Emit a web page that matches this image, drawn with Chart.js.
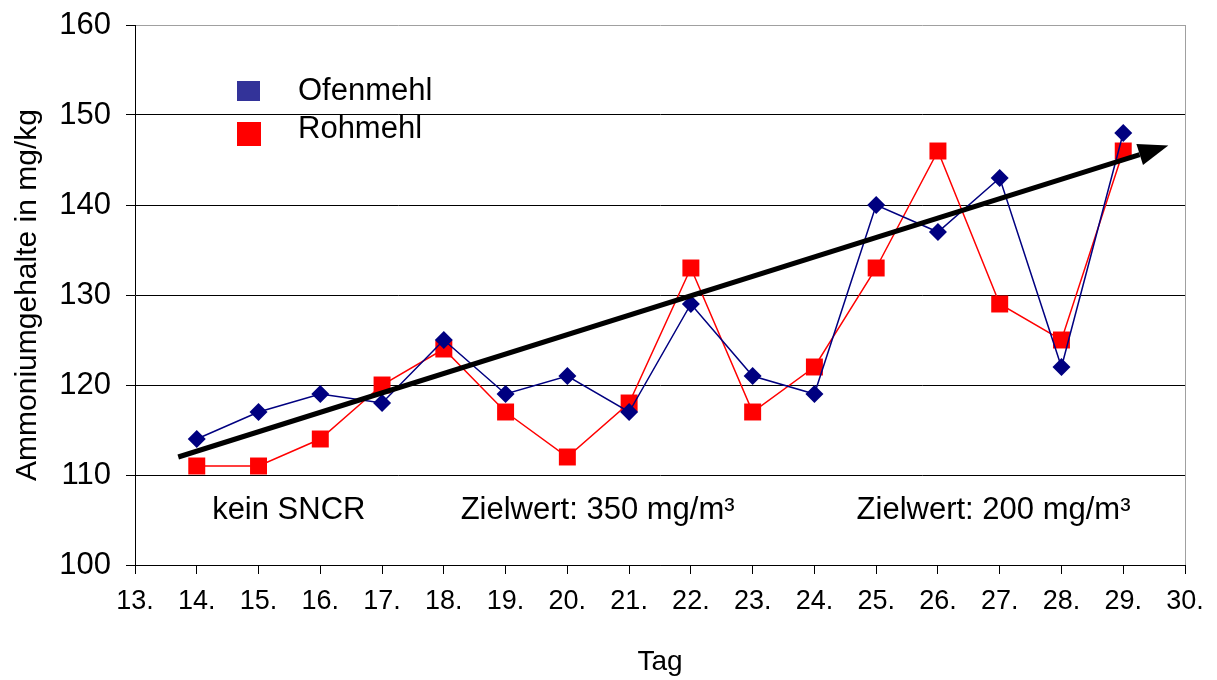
<!DOCTYPE html>
<html>
<head>
<meta charset="utf-8">
<script src="https://cdn.jsdelivr.net/npm/chart.js@4/dist/chart.umd.min.js"></script>
<style>
  html, body { margin: 0; padding: 0; background: #fff; }
  canvas { display: block; }
</style>
</head>
<body>
<canvas id="ammonChart" width="1217" height="680"></canvas>
<script>
// values
const days = [14, 15, 16, 17, 18, 19, 20, 21, 22, 23, 24, 25, 26, 27, 28, 29];
const ofenmehl = [114, 117, 119, 118, 125, 119, 121, 117, 129, 121, 119, 140, 137, 143, 122, 148];
const rohmehl = [111, 111, 114, 120, 124, 117, 112, 118, 133, 117, 122, 133, 146, 129, 125, 146];
const seriesNames = ['Ofenmehl', 'Rohmehl'];
const trendArrow = [[13.7, 112], [29.73, 146.6]];
const notes = [
    ['kein SNCR', 15.49, 105.1],
    ['Zielwert: 350 mg/m³', 20.49, 105.1],
    ['Zielwert: 200 mg/m³', 26.9, 105.1]
];

const toPoints = vals => days.map((d, i) => ({ x: d, y: vals[i] }));

const overlay = {
    id: 'overlay',
    afterDatasetsDraw(chart) {
        const { ctx, chartArea: a, scales: { x, y } } = chart;
        ctx.save();

        // grey right edge of the plot frame
        ctx.strokeStyle = '#a0a0a0';
        ctx.lineWidth = 1;
        ctx.beginPath();
        ctx.moveTo(a.right + 0.5, a.top);
        ctx.lineTo(a.right + 0.5, a.bottom);
        ctx.stroke();

        // trend arrow
        const [p0, p1] = trendArrow.map(([dx, dy]) => [x.getPixelForValue(dx), y.getPixelForValue(dy)]);
        const ang = Math.atan2(p1[1] - p0[1], p1[0] - p0[0]);
        const head = 30, half = 11;
        const bx = p1[0] - head * Math.cos(ang);
        const by = p1[1] - head * Math.sin(ang);
        ctx.strokeStyle = '#000';
        ctx.lineWidth = 5;
        ctx.beginPath();
        ctx.moveTo(p0[0], p0[1]);
        ctx.lineTo(bx, by);
        ctx.stroke();
        ctx.fillStyle = '#000';
        ctx.beginPath();
        ctx.moveTo(p1[0], p1[1]);
        ctx.lineTo(bx + half * Math.sin(ang), by - half * Math.cos(ang));
        ctx.lineTo(bx - half * Math.sin(ang), by + half * Math.cos(ang));
        ctx.closePath();
        ctx.fill();

        // phase notes
        ctx.font = '31px "Liberation Sans", Arial, sans-serif';
        ctx.textAlign = 'center';
        ctx.textBaseline = 'alphabetic';
        notes.forEach(([txt, dx, dy]) => {
            ctx.fillText(txt, x.getPixelForValue(dx), y.getPixelForValue(dy));
        });

        // legend inside the plot
        ctx.textAlign = 'left';
        ctx.fillStyle = '#333399';
        ctx.fillRect(237, 81, 23, 20);
        ctx.fillStyle = '#ff0000';
        ctx.fillRect(237, 122, 24, 24);
        ctx.fillStyle = '#000';
        ctx.fillText(seriesNames[0], 298, 100);
        ctx.fillText(seriesNames[1], 298, 138);

        ctx.restore();
    }
};

new Chart(document.getElementById('ammonChart'), {
    type: 'scatter',
    data: {
        datasets: [
            {
                label: seriesNames[0],
                data: toPoints(ofenmehl),
                showLine: true,
                borderColor: '#000080',
                backgroundColor: '#000080',
                borderWidth: 1.5,
                pointStyle: 'rectRot',
                pointRadius: 9,
                pointHoverRadius: 9,
                pointBorderWidth: 0
            },
            {
                label: seriesNames[1],
                data: toPoints(rohmehl),
                showLine: true,
                borderColor: '#ff0000',
                backgroundColor: '#ff0000',
                borderWidth: 1.5,
                pointStyle: 'rect',
                pointRadius: 12,
                pointHoverRadius: 12,
                pointBorderWidth: 0
            }
        ]
    },
    options: {
        responsive: false,
        animation: false,
        events: [],
        layout: { padding: { left: 0, top: 25, right: 32, bottom: 0 } },
        plugins: {
            legend: { display: false },
            tooltip: { enabled: false }
        },
        scales: {
            x: {
                type: 'linear',
                min: 13,
                max: 30,
                afterFit: scale => { scale.height = 115; },
                ticks: {
                    stepSize: 1,
                    color: '#000',
                    padding: 11,
                    maxRotation: 0,
                    autoSkip: false,
                    font: { family: '"Liberation Sans", Arial, sans-serif', size: 27 },
                    callback: v => v + '.'
                },
                grid: {
                    drawOnChartArea: false,
                    drawTicks: true,
                    tickLength: 9,
                    tickColor: '#000'
                },
                border: { color: '#000', width: 1 },
                title: {
                    display: true,
                    text: 'Tag',
                    color: '#000',
                    padding: { top: 0, bottom: 1 },
                    font: { family: '"Liberation Sans", Arial, sans-serif', size: 28 }
                }
            },
            y: {
                min: 100,
                max: 160,
                afterFit: scale => {
                    scale.width = 135;
                    scale.paddingTop = 0;
                    scale.paddingBottom = 0;
                },
                ticks: {
                    stepSize: 10,
                    color: '#000',
                    padding: 15,
                    font: { family: '"Liberation Sans", Arial, sans-serif', size: 31 }
                },
                grid: {
                    color: ctx => (ctx.tick && ctx.tick.value === 160 ? '#a0a0a0' : '#000'),
                    lineWidth: 1,
                    drawTicks: true,
                    tickLength: 9,
                    tickColor: '#000'
                },
                border: { color: '#000', width: 1 },
                title: {
                    display: true,
                    text: 'Ammoniumgehalte in mg/kg',
                    color: '#000',
                    padding: { top: 10, bottom: 0 },
                    font: { family: '"Liberation Sans", Arial, sans-serif', size: 30 }
                }
            }
        }
    },
    plugins: [overlay]
});
</script>
</body>
</html>
